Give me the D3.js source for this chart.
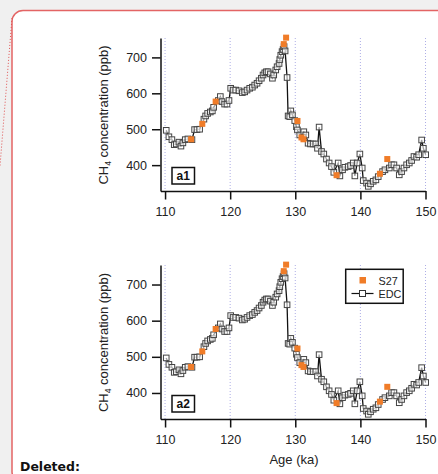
<!DOCTYPE html>
<html><head><meta charset="utf-8">
<script src="https://cdn.jsdelivr.net/npm/d3@7"></script>
<style>
html,body{margin:0;padding:0;background:#f0f0f0;}
svg{display:block;}
</style></head>
<body>
<svg id="c" width="438" height="474"></svg>
<script>
// ---- data ----
const ageEDC = [110.18,110.59,111.05,111.41,111.72,112.13,112.44,112.74,113.10,113.51,114.13,114.54,114.90,115.31,115.97,116.23,116.54,116.95,117.26,117.46,118.18,118.49,118.74,119.15,119.51,119.82,120.08,120.44,120.85,121.36,121.87,122.23,122.59,123.00,123.41,123.77,124.13,124.44,124.79,125.05,125.31,125.56,125.82,126.18,126.49,126.69,127.00,127.21,127.51,127.62,127.77,127.97,128.13,128.28,128.44,128.74,128.90,129.15,129.31,129.56,129.92,130.18,130.33,130.69,131.31,131.62,131.97,132.33,132.74,133.15,133.41,133.66,134.03,134.38,134.79,135.20,135.56,135.92,136.59,136.85,137.26,137.62,138.13,138.49,138.90,139.15,139.51,139.92,140.28,140.44,140.95,141.21,141.56,141.97,142.38,142.74,143.41,143.77,144.44,144.79,145.15,145.56,145.97,146.33,146.69,147.10,147.51,147.87,148.23,148.64,148.95,149.41,149.67,150.03];
const ch4EDC = [497,479,471,457,459,464,453,462,471,473,471,499,499,500,528,537,544,548,551,561,580,591,577,570,570,580,614,609,609,607,602,604,609,614,617,623,628,635,642,651,657,660,660,654,642,651,665,674,683,694,706,716,722,730,718,644,537,535,551,540,524,507,498,484,493,484,461,459,459,459,447,506,438,431,417,406,396,380,406,370,387,394,396,399,406,370,406,431,392,357,350,341,348,355,359,368,382,387,392,401,401,392,373,382,392,401,406,413,424,422,429,470,447,429];
const ageS27 = [114.0,115.72,117.77,128.23,128.59,130.34,130.95,131.26,136.34,143.0,144.13];
const ch4S27 = [472,515,577,737,755,523,477,472,372,376,417];
const xTicks = [110,120,130,140,150];
const yTicks = [400,500,600,700];
const panels = [
  {top:38, bottom:191, label:"a1", legend:false, xTitle:false},
  {top:265, bottom:419, label:"a2", legend:true, xTitle:true}
];

const svg = d3.select("#c");
const FONT = "Liberation Sans, Arial, sans-serif";

// background card
svg.append("rect").attr("x",0).attr("y",0).attr("width",438).attr("height",474).attr("fill","#f0f0f0");
svg.append("rect").attr("x",12).attr("y",10.5).attr("width",450).attr("height",472)
  .attr("rx",11).attr("fill","#ffffff").attr("stroke","#e36464").attr("stroke-width",1.5);
svg.append("line").attr("x1",12).attr("y1",18).attr("x2",0).attr("y2",166)
  .attr("stroke","#e05050").attr("stroke-width",1).attr("stroke-dasharray","1,2");

const x = d3.scaleLinear().domain([109.3,150]).range([160.5,425.5]);

const edc = ageEDC.map((a,i)=>[a,ch4EDC[i]]);
const s27 = ageS27.map((a,i)=>[a,ch4S27[i]]);

panels.forEach(p=>{
  const y = d3.scaleLinear().domain([328,754]).range([p.bottom,p.top]);
  const g = svg.append("g");
  // grid
  g.selectAll("line.grid").data(xTicks).join("line")
    .attr("x1",d=>x(d)).attr("x2",d=>x(d)).attr("y1",p.top).attr("y2",p.bottom)
    .attr("stroke","#aeaee6").attr("stroke-width",1).attr("stroke-dasharray","1,2");
  // axes
  const ya = g.append("g").attr("transform",`translate(${x.range()[0]},0)`)
    .call(d3.axisLeft(y).tickValues(yTicks).tickSize(8.5).tickSizeOuter(0).tickPadding(5));
  const xa = g.append("g").attr("transform",`translate(0,${p.bottom})`)
    .call(d3.axisBottom(x).tickValues(xTicks).tickSize(8.5).tickSizeOuter(0).tickPadding(7.5));
  [ya,xa].forEach(a=>{
    a.attr("font-family",FONT).attr("font-size",12.5);
    a.selectAll("path,line").attr("stroke","#111").attr("stroke-width",1.5);
    a.selectAll("text").attr("font-family",FONT).attr("font-size",12.5).attr("fill","#222");
  });
  // y title
  const cy = (p.top+p.bottom)/2 + 0.5;
  const t = g.append("text").attr("transform",`translate(108,${cy}) rotate(-90)`)
    .attr("text-anchor","middle").attr("font-family",FONT).attr("font-size",13).attr("fill","#222");
  t.append("tspan").text("CH");
  t.append("tspan").attr("font-size",8.5).attr("dy",3).text("4");
  t.append("tspan").attr("dy",-3).text(" concentration (ppb)");
  if(p.xTitle){
    g.append("text").attr("x",294).attr("y",p.bottom+45).attr("text-anchor","middle")
      .attr("font-family",FONT).attr("font-size",13).attr("fill","#222").text("Age (ka)");
  }
  // EDC line
  g.append("path").datum(edc)
    .attr("d",d3.line().x(d=>x(d[0])).y(d=>y(d[1])))
    .attr("fill","none").attr("stroke","#111").attr("stroke-width",1.3);
  g.selectAll("rect.edc").data(edc).join("rect")
    .attr("x",d=>x(d[0])-2.8).attr("y",d=>y(d[1])-2.8).attr("width",5.6).attr("height",5.6)
    .attr("fill","#fff").attr("fill-opacity",0.6).attr("stroke","#444").attr("stroke-width",1);
  g.selectAll("rect.s27").data(s27).join("rect")
    .attr("x",d=>x(d[0])-3).attr("y",d=>y(d[1])-3).attr("width",6).attr("height",6)
    .attr("fill","#f07c28");
  // label box
  const bx = 172, by = p.bottom-23.5;
  g.append("rect").attr("x",bx).attr("y",by).attr("width",22.5).attr("height",16.5)
    .attr("fill","#fff").attr("stroke","#111").attr("stroke-width",1.5);
  g.append("text").attr("x",bx+11.25).attr("y",by+12.5).attr("text-anchor","middle")
    .attr("font-family",FONT).attr("font-weight","bold").attr("font-size",12).attr("fill","#111").text(p.label);
  if(p.legend){
    const lx=345.7, ly=269.3;
    g.append("rect").attr("x",lx).attr("y",ly).attr("width",57.5).attr("height",34)
      .attr("fill","#fff").attr("stroke","#111").attr("stroke-width",1.5);
    g.append("rect").attr("x",359.5).attr("y",277).attr("width",6.5).attr("height",6.5).attr("fill","#f07c28");
    g.append("line").attr("x1",351.5).attr("x2",373.5).attr("y1",293.5).attr("y2",293.5).attr("stroke","#111").attr("stroke-width",1.2);
    g.append("rect").attr("x",359.5).attr("y",290.5).attr("width",6).attr("height",6).attr("fill","#fff").attr("stroke","#333").attr("stroke-width",1);
    g.append("text").attr("x",378.5).attr("y",284.5).attr("font-family",FONT).attr("font-size",10.8).attr("fill","#222").text("S27");
    g.append("text").attr("x",378.5).attr("y",297.5).attr("font-family",FONT).attr("font-size",10.8).attr("fill","#222").text("EDC");
  }
});

svg.append("text").attr("x",20).attr("y",471).attr("font-family","DejaVu Sans, Verdana, sans-serif")
  .attr("font-weight","bold").attr("font-size",12.5).attr("fill","#111").text("Deleted:");
</script>
</body></html>
